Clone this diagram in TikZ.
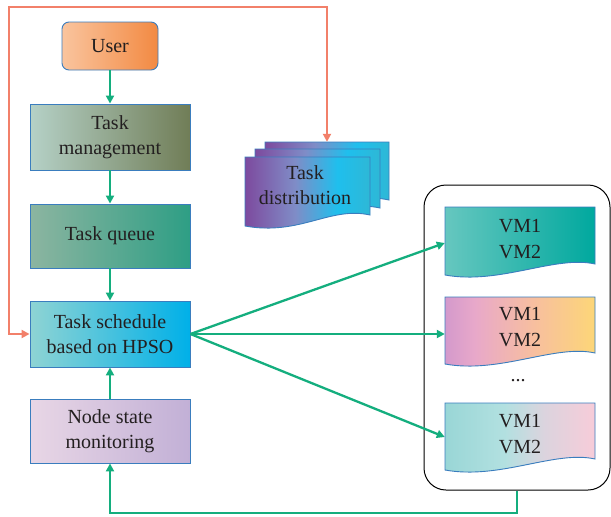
\documentclass[tikz,border=0pt]{standalone}
\usepackage{fontspec}
\setmainfont{Liberation Serif}
\usetikzlibrary{arrows.meta}
\definecolor{bord}{HTML}{3A7DBE}
\definecolor{garr}{HTML}{14AE7E}
\definecolor{oarr}{HTML}{F2806A}
\definecolor{txt}{HTML}{231F20}
\pgfdeclarehorizontalshading{usersh}{100bp}{rgb(0bp)=(0.98,0.77,0.62); rgb(25bp)=(0.98,0.77,0.62); rgb(75bp)=(0.95,0.54,0.26); rgb(100bp)=(0.95,0.54,0.26)}
\pgfdeclarehorizontalshading{mgmtsh}{100bp}{rgb(0bp)=(0.71,0.82,0.78); rgb(25bp)=(0.71,0.82,0.78); rgb(75bp)=(0.44,0.49,0.34); rgb(100bp)=(0.44,0.49,0.34)}
\pgfdeclarehorizontalshading{queuesh}{100bp}{rgb(0bp)=(0.55,0.71,0.63); rgb(25bp)=(0.55,0.71,0.63); rgb(75bp)=(0.18,0.62,0.52); rgb(100bp)=(0.18,0.62,0.52)}
\pgfdeclarehorizontalshading{schedsh}{100bp}{rgb(0bp)=(0.56,0.83,0.83); rgb(25bp)=(0.56,0.83,0.83); rgb(75bp)=(0.0,0.69,0.91); rgb(100bp)=(0.0,0.69,0.91)}
\pgfdeclarehorizontalshading{monsh}{100bp}{rgb(0bp)=(0.91,0.84,0.90); rgb(25bp)=(0.91,0.84,0.90); rgb(75bp)=(0.76,0.69,0.84); rgb(100bp)=(0.76,0.69,0.84)}
\pgfdeclarehorizontalshading{vmash}{100bp}{rgb(0bp)=(0.40,0.78,0.75); rgb(25bp)=(0.40,0.78,0.75); rgb(75bp)=(0.0,0.66,0.62); rgb(100bp)=(0.0,0.66,0.62)}
\pgfdeclarehorizontalshading{vmbsh}{100bp}{rgb(0bp)=(0.83,0.60,0.80); rgb(25bp)=(0.83,0.60,0.80); rgb(35bp)=(0.91,0.66,0.79); rgb(55bp)=(0.97,0.75,0.62); rgb(75bp)=(0.99,0.84,0.47); rgb(100bp)=(0.99,0.84,0.47)}
\pgfdeclarehorizontalshading{vmcsh}{100bp}{rgb(0bp)=(0.60,0.84,0.84); rgb(25bp)=(0.60,0.84,0.84); rgb(45bp)=(0.70,0.88,0.88); rgb(58bp)=(0.86,0.83,0.87); rgb(75bp)=(0.97,0.80,0.85); rgb(100bp)=(0.97,0.80,0.85)}
\pgfdeclarehorizontalshading{distsh}{100bp}{rgb(0bp)=(0.49,0.29,0.62); rgb(25bp)=(0.49,0.29,0.62); rgb(45bp)=(0.50,0.55,0.78); rgb(62bp)=(0.12,0.75,0.93); rgb(75bp)=(0.18,0.72,0.84); rgb(100bp)=(0.18,0.72,0.84)}
\newcommand\docshp[5]{\shade[shading=#5, draw=bord, line width=0.9pt] (#1,#2) -- (#3,#2) -- (#3,{#4-11}) .. controls ({#3-40},{#4-20}) and ({#1+55},{#4+10}) .. (#1,#4) -- cycle;}
\tikzset{
  box/.style={draw=bord, line width=0.9pt, shade, minimum width=160pt, minimum height=64pt, align=center, text=txt, font=\fontsize{20}{25}\selectfont, inner sep=0pt},
  doctext/.style={align=center, text=txt, font=\fontsize{20}{26}\selectfont, inner sep=0pt, minimum width=150pt, minimum height=56pt},
  garrow/.style={draw=garr, line width=2.3pt, -{Triangle[length=8pt,width=8pt]}},
  oarrow/.style={draw=oarr, line width=2.3pt, {Triangle[length=8pt,width=8pt]}-{Triangle[length=8pt,width=8pt]}},
}
\begin{document}
\begin{tikzpicture}[x=1pt,y=-1pt]
\useasboundingbox[fill=white] (0,0) rectangle (611,517);
% left column
\node[box, shading=usersh, minimum width=96pt, minimum height=48pt, rounded corners=7pt] (user) at (110,46) {User};
\node[box, shading=mgmtsh, minimum height=66pt] (mgmt) at (110,137) {Task\\management};
\node[box, shading=queuesh] (queue) at (110,236) {Task queue};
\node[box, shading=schedsh, minimum height=66pt] (sched) at (110,334) {Task schedule\\based on HPSO};
\node[box, shading=monsh] (mon) at (110,431) {Node state\\monitoring};
% container
\node[draw=black, line width=1pt, rounded corners=22pt, minimum width=186pt, minimum height=305pt, inner sep=0pt] (cont) at (517,337.5) {};
% VM documents
\docshp{445}{207}{595}{275}{vmash}
\docshp{445}{297}{595}{364}{vmbsh}
\docshp{445}{403}{595}{470}{vmcsh}
\node[doctext] (vm1) at (520,239) {VM1\\VM2};
\node[doctext] (vm2) at (520,327) {VM1\\VM2};
\node[doctext] (vm3) at (520,434) {VM1\\VM2};
\node[text=txt, font=\fontsize{20}{20}\selectfont, inner sep=0pt] (dots) at (518,381) {...};
% task distribution stack
\docshp{265}{142}{389}{211}{distsh}
\docshp{255}{149}{380}{219}{distsh}
\docshp{245}{157}{370}{226}{distsh}
\node[inner sep=0pt, minimum width=124pt, minimum height=60pt] (distback) at (327,172) {};
\node[align=center, text=txt, font=\fontsize{20}{25}\selectfont, inner sep=0pt] (dist) at (305,185) {Task\\distribution};
% connectors
\draw[garrow] (user) -- (mgmt);
\draw[garrow] (mgmt) -- (queue);
\draw[garrow] (queue) -- (sched);
\draw[garrow] (mon) -- (sched);
\draw[garrow] (sched.east) -- ([yshift=-4pt]vm1.west);
\draw[garrow] (sched.east) -- (sched.east -| vm2.west);
\draw[garrow] (sched.east) -- ([yshift=-3pt]vm3.west);
\coordinate (tl) at (9,7);
\coordinate (bl) at (0,513);
\draw[garrow] (cont.south) |- (bl -| mon.south) -- (mon.south);
\draw[oarrow] (sched.west) -| (tl) -| (distback.north);
\end{tikzpicture}
\end{document}
